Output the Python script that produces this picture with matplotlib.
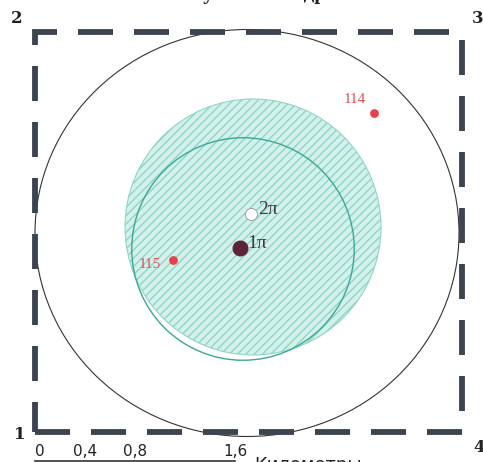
import matplotlib.pyplot as plt
from matplotlib.patches import Ellipse, Circle, Rectangle

# all coordinates in km, origin at corner 1 of the licence area
corner_x = [0.0, 0.0, 3.416, 3.416]
corner_y = [0.0, 3.2, 3.2, 0.0]
corner_names = ["1", "2", "3", "4"]

outer_center = (1.696, 1.592)
outer_size = (3.392, 3.256)

zone_center = (1.744, 1.64)
zone_radius = 1.024
inner_center = (1.664, 1.464)
inner_radius = 0.89

wells_x = [1.728, 1.64]
wells_y = [1.744, 1.472]
wells_names = ["2π", "1π"]

obs_x = [2.712, 1.104]
obs_y = [2.552, 1.376]
obs_names = ["114", "115"]

scale_ticks = [0.0, 0.4, 0.8, 1.6]
scale_labels = ["0", "0,4", "0,8", "1,6"]

plt.rcParams['hatch.linewidth'] = 1.0
plt.rcParams['hatch.color'] = '#5fc2b0'

fig = plt.figure(figsize=(4.83, 4.62), dpi=100)
ax = fig.add_axes([0, 0, 1, 1])
ax.set_xlim(-0.28, 3.584)
ax.set_ylim(-0.24, 3.456)
ax.axis('off')

ax.add_patch(Ellipse(outer_center, *outer_size, fill=False, ec='#333333', lw=0.8))
ax.add_patch(Circle(zone_center, zone_radius, fc='#d4f0ea', ec='#8fd6c8',
                    lw=0.8, hatch='////'))
ax.add_patch(Circle(inner_center, inner_radius, fill=False, ec='#3aa896', lw=1.0))

ax.add_patch(Rectangle((corner_x[0], corner_y[0]), corner_x[2] - corner_x[0],
                       corner_y[1] - corner_y[0], fill=False, ec='#3b4550',
                       lw=4.2, ls=(0, (6, 3.6)), joinstyle='miter'))

offs = [(-11, -2), (-13, 10), (11, 10), (12, -11)]
for x, y, n, o in zip(corner_x, corner_y, corner_names, offs):
    ax.annotate(n, (x, y), xytext=o, textcoords='offset points', ha='center',
                va='center', fontsize=12, fontweight='bold', family='DejaVu Serif',
                color='#222222')

ax.scatter(wells_x[:1], wells_y[:1], s=75, c='white', edgecolors='#999999',
           linewidths=0.6, zorder=5)
ax.scatter(wells_x[1:], wells_y[1:], s=110, c='#5e2236', zorder=5)
for x, y, n in zip(wells_x, wells_y, wells_names):
    ax.annotate(n, (x, y), xytext=(5, 3), textcoords='offset points',
                fontsize=14, family='Liberation Serif', color='#3a3a3a',
                va='center')

ax.scatter(obs_x, obs_y, s=28, c='#e8404c', zorder=5)
ax.annotate(obs_names[0], (obs_x[0], obs_y[0]), xytext=(-14, 10),
            textcoords='offset points', ha='center', va='center',
            fontsize=11, family='Liberation Serif', color='#e0505a')
ax.annotate(obs_names[1], (obs_x[1], obs_y[1]), xytext=(-17, -3),
            textcoords='offset points', ha='center', va='center',
            fontsize=11, family='Liberation Serif', color='#e0505a')

for t, lab in zip(scale_ticks, scale_labels):
    ax.text(t, -0.1, lab, ha='left' if t == 0 else 'center', va='top',
            fontsize=11, color='#222222')
ax.plot([scale_ticks[0], scale_ticks[-1]], [-0.235, -0.235], color='#333333', lw=1.2)
ax.text(1.75, -0.19, "Километры", ha='left', va='top', fontsize=13, color='#222222')

ax.text(2.33, 3.505, "положение участка недр", ha='right', va='center',
        fontsize=15, fontweight='bold', family='Liberation Serif', color='#222222')

fig.savefig("out.png", dpi=100)
